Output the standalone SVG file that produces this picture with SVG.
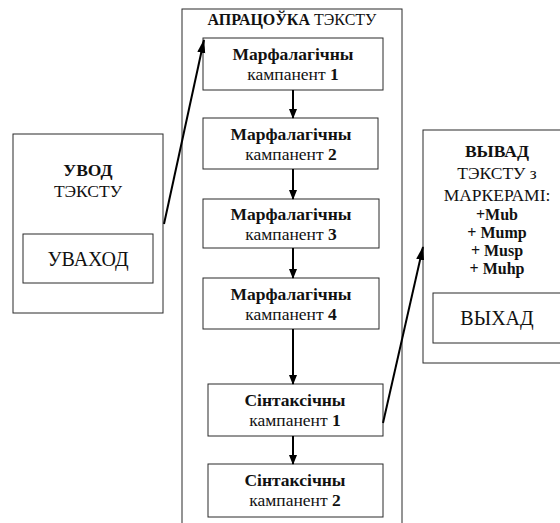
<svg xmlns="http://www.w3.org/2000/svg" width="560" height="523" viewBox="0 0 560 523">
<style>
.box{fill:#fff;stroke:#2a2a2a;stroke-width:1}
.frame{fill:none;stroke:#2a2a2a;stroke-width:1}
text,tspan{font-family:"Liberation Serif","Times New Roman","DejaVu Serif",serif}
text{fill:#111;text-anchor:middle}
.t{font-size:17.5px}
.b{font-weight:bold}
.big{font-size:20px}
.hd{font-size:16px}
.mk{font-size:16px;font-weight:bold}
.con{stroke:#000;stroke-width:2;fill:none}
</style>
<defs>
<marker id="ah" markerWidth="10" markerHeight="10" refX="9" refY="4" orient="auto" markerUnits="userSpaceOnUse" viewBox="0 0 10 8">
<path d="M0,0 L10,4 L0,8 Z" fill="#000"/>
</marker>
<marker id="ah2" markerWidth="14" markerHeight="10" refX="13" refY="4" orient="auto" markerUnits="userSpaceOnUse" viewBox="0 0 14 8">
<path d="M0,0 L14,4 L0,8 Z" fill="#000"/>
</marker>
</defs>
<rect width="560" height="523" fill="#fff"/>

<g id="input">
<rect class="frame" x="13" y="134" width="150" height="179"/>
<text class="t b" x="88" y="176">УВОД</text>
<text class="t" x="88" y="197">ТЭКСТУ</text>
<rect class="frame" x="23" y="234" width="130" height="49"/>
<text class="big" x="88" y="266">УВАХОД</text>
</g>

<g id="processing">
<rect class="frame" x="182" y="9" width="220" height="530"/>
<text class="hd" x="292" y="25"><tspan class="b">АПРАЦОЎКА</tspan> ТЭКСТУ</text>
</g>

<g id="m1">
<rect class="box" x="203" y="38" width="180" height="52"/>
<text class="t b" x="293" y="60">Марфалагічны</text>
<text class="t" x="293" y="80">кампанент <tspan class="b">1</tspan></text>
</g>
<g id="m2">
<rect class="box" x="203" y="118" width="175" height="51"/>
<text class="t b" x="291" y="140">Марфалагічны</text>
<text class="t" x="291" y="160">кампанент <tspan class="b">2</tspan></text>
</g>
<g id="m3">
<rect class="box" x="203" y="199" width="176" height="49"/>
<text class="t b" x="291" y="220">Марфалагічны</text>
<text class="t" x="291" y="240">кампанент <tspan class="b">3</tspan></text>
</g>
<g id="m4">
<rect class="box" x="203" y="278" width="176" height="51"/>
<text class="t b" x="291" y="300">Марфалагічны</text>
<text class="t" x="291" y="320">кампанент <tspan class="b">4</tspan></text>
</g>
<g id="s1">
<rect class="box" x="208" y="384" width="175" height="52"/>
<text class="t b" x="295" y="406">Сінтаксічны</text>
<text class="t" x="295" y="426">кампанент <tspan class="b">1</tspan></text>
</g>
<g id="s2">
<rect class="box" x="208" y="464" width="175" height="53"/>
<text class="t b" x="295" y="486">Сінтаксічны</text>
<text class="t" x="295" y="506">кампанент <tspan class="b">2</tspan></text>
</g>

<g id="output">
<rect class="frame" x="423" y="130" width="150" height="233"/>
<text class="t b" x="497" y="157">ВЫВАД</text>
<text class="t" x="497" y="179">ТЭКСТУ з</text>
<text class="t" x="497" y="201">МАРКЕРАМІ:</text>
<text class="mk" x="497" y="220">+Mub</text>
<text class="mk" x="497" y="238">+ Mump</text>
<text class="mk" x="497" y="256">+ Musp</text>
<text class="mk" x="497" y="274">+ Muhp</text>
<rect class="frame" x="433" y="293" width="140" height="50"/>
<text class="big" x="497" y="325">ВЫХАД</text>
</g>

<g id="connectors">
<line class="con" x1="293" y1="90" x2="293" y2="118" marker-end="url(#ah)"/>
<line class="con" x1="293" y1="169" x2="293" y2="199" marker-end="url(#ah)"/>
<line class="con" x1="293" y1="248" x2="293" y2="278" marker-end="url(#ah)"/>
<line class="con" x1="293" y1="329" x2="293" y2="384" marker-end="url(#ah)"/>
<line class="con" x1="293" y1="436" x2="293" y2="464" marker-end="url(#ah)"/>
<line class="con" x1="164" y1="224" x2="204" y2="40" marker-end="url(#ah2)"/>
<line class="con" x1="383" y1="423" x2="423" y2="247" marker-end="url(#ah2)"/>
</g>
</svg>
